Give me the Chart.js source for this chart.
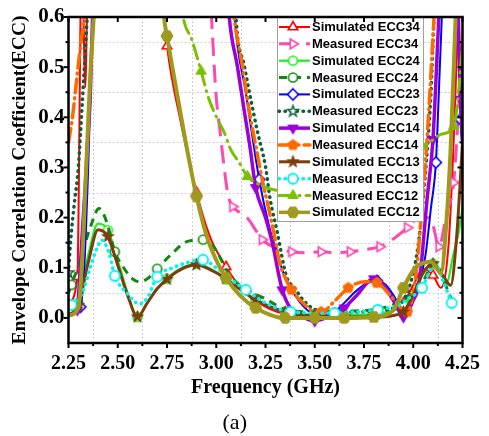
<!DOCTYPE html>
<html>
<head>
<meta charset="utf-8">
<title>ECC</title>
<script src="https://cdn.jsdelivr.net/npm/chart.js@4.4.1/dist/chart.umd.min.js"></script>
<style>
  body { margin: 0; background: #fff; }
  canvas { display: block; }
</style>
</head>
<body>
<canvas id="ecc" width="489" height="436"></canvas>
<script>
// axis ticks and dotted grid positions
const freqTicks = [2.25, 2.50, 2.75, 3.00, 3.25, 3.50, 3.75, 4.00, 4.25];
const eccTicks = [0.0, 0.1, 0.2, 0.3, 0.4, 0.5, 0.6];
const freqGrid = [2.375, 2.625, 2.875, 3.125, 3.375, 3.625, 3.875, 4.125];
const eccGrid = [0.05, 0.15, 0.25, 0.35, 0.45, 0.55];

// Simulated ECC34
const simEcc34F = [2.25, 2.295, 2.318, 2.335, 2.352, 2.70, 2.75, 2.82, 2.90, 2.97, 3.05, 3.12, 3.20, 3.27, 3.35, 3.50, 3.65, 3.80, 3.88, 3.95, 4.00, 4.05, 4.10, 4.14, 4.18, 4.21, 4.24];
const simEcc34 = [0.03, 0.082, 0.75, 0.46, 0.75, 0.75, 0.542, 0.39, 0.25, 0.16, 0.102, 0.062, 0.035, 0.018, 0.008, 0.003, 0.003, 0.004, 0.01, 0.03, 0.065, 0.098, 0.085, 0.06, 0.15, 0.4, 0.75];
const simEcc34Marks = [2.295, 2.75, 2.90, 3.05, 3.20, 3.35, 3.50, 3.65, 3.80, 3.95, 4.10];

// Measured ECC34
const measEcc34F = [2.96, 2.98, 3.00, 3.02, 3.04, 3.06, 3.083, 3.12, 3.16, 3.20, 3.233, 3.30, 3.382, 3.45, 3.532, 3.60, 3.68, 3.75, 3.83, 3.90, 3.97, 4.02, 4.07, 4.10, 4.13, 4.17, 4.205, 4.25];
const measEcc34 = [0.72, 0.57, 0.44, 0.37, 0.3, 0.245, 0.222, 0.21, 0.198, 0.175, 0.156, 0.14, 0.132, 0.13, 0.132, 0.13, 0.132, 0.136, 0.142, 0.158, 0.18, 0.198, 0.2, 0.185, 0.142, 0.21, 0.27, 0.55];
const measEcc34Marks = [3.083, 3.233, 3.382, 3.532, 3.68, 3.83, 3.97, 4.13, 4.205];

// Simulated ECC24
const simEcc24F = [2.25, 2.30, 2.35, 2.40, 2.45, 2.50, 2.55, 2.60, 2.65, 2.70, 2.75, 2.80, 2.85, 2.90, 2.95, 3.00, 3.05, 3.10, 3.20, 3.35, 3.50, 3.65, 3.80, 3.90, 3.95, 4.00, 4.05, 4.10, 4.13, 4.17, 4.20, 4.23, 4.25];
const simEcc24 = [0.005, 0.03, 0.125, 0.188, 0.175, 0.115, 0.05, 0.002, 0.03, 0.058, 0.078, 0.094, 0.104, 0.108, 0.102, 0.091, 0.077, 0.063, 0.036, 0.013, 0.006, 0.006, 0.008, 0.015, 0.025, 0.05, 0.088, 0.108, 0.095, 0.07, 0.12, 0.17, 0.22];
const simEcc24Marks = [2.30, 2.45, 2.60, 2.75, 2.90, 3.05, 3.20, 3.35, 3.50, 3.65, 3.80, 3.95, 4.10];

// Measured ECC24
const measEcc24F = [2.25, 2.265, 2.31, 2.36, 2.405, 2.445, 2.485, 2.53, 2.575, 2.61, 2.65, 2.70, 2.78, 2.85, 2.933, 2.98, 3.02, 3.06, 3.12, 3.24, 3.377, 3.50, 3.60, 3.70, 3.82, 3.92, 4.00, 4.045, 4.085, 4.115, 4.155, 4.195];
const measEcc24 = [0.05, 0.066, 0.116, 0.18, 0.218, 0.19, 0.132, 0.1, 0.078, 0.072, 0.078, 0.098, 0.13, 0.152, 0.156, 0.145, 0.12, 0.09, 0.065, 0.04, 0.014, 0.012, 0.013, 0.014, 0.018, 0.03, 0.05, 0.068, 0.1, 0.11, 0.075, 0.035];
const measEcc24Marks = [2.265, 2.485, 2.70, 2.933];

// Simulated ECC23
const simEcc23F = [2.25, 2.31, 2.33, 2.35, 2.365, 2.38, 3.08, 3.093, 3.15, 3.218, 3.27, 3.30, 3.35, 3.40, 3.45, 3.50, 3.55, 3.60, 3.65, 3.70, 3.75, 3.816, 3.86, 3.90, 3.95, 4.00, 4.06, 4.09, 4.115, 4.13, 4.145, 4.16, 4.20, 4.24, 4.26];
const simEcc23 = [0.008, 0.022, 0.1, 0.3, 0.5, 0.7, 0.7, 0.6, 0.45, 0.276, 0.18, 0.14, 0.08, 0.045, 0.02, 0.006, 0.005, 0.012, 0.03, 0.05, 0.066, 0.074, 0.066, 0.045, 0.015, 0.05, 0.12, 0.22, 0.31, 0.45, 0.6, 0.75, 1.0, 0.396, 0.3];
const simEcc23Marks = [2.31, 3.218, 3.816, 4.115, 4.24];

// Measured ECC23
const measEcc23F = [2.25, 2.26, 2.28, 2.30, 2.32, 2.345, 2.36, 3.09, 3.10, 3.143, 3.175, 3.21, 3.25, 3.274, 3.307, 3.357, 3.397, 3.44, 3.507, 3.60, 3.70, 3.80, 3.90, 3.95, 4.00, 4.03, 4.06, 4.09, 4.105, 4.12];
const measEcc23 = [0.09, 0.15, 0.23, 0.3, 0.43, 0.6, 0.7, 0.7, 0.6, 0.502, 0.436, 0.37, 0.302, 0.236, 0.176, 0.082, 0.06, 0.036, 0.016, 0.012, 0.012, 0.014, 0.02, 0.035, 0.09, 0.16, 0.28, 0.45, 0.596, 0.7];
const measEcc23Marks = [2.25];

// Simulated ECC14
const simEcc14F = [2.25, 2.295, 2.305, 2.32, 2.336, 2.35, 2.36, 2.372, 2.385, 3.05, 3.066, 3.108, 3.141, 3.173, 3.20, 3.25, 3.29, 3.315, 3.335, 3.372, 3.422, 3.50, 3.59, 3.65, 3.706, 3.80, 3.856, 3.906, 3.95, 4.00, 4.03, 4.07, 4.10, 4.13, 4.15, 4.20, 4.24, 4.26];
const simEcc14 = [0.005, 0.016, 0.07, 0.17, 0.27, 0.37, 0.436, 0.6, 0.75, 0.7, 0.6, 0.5, 0.416, 0.336, 0.26, 0.2, 0.14, 0.09, 0.056, 0.022, 0.006, -0.006, 0.006, 0.02, 0.042, 0.078, 0.062, 0.03, 0.002, 0.035, 0.07, 0.236, 0.356, 0.6, 0.75, 1.0, 0.436, 0.3];
const simEcc14Marks = [2.295, 3.20, 3.335, 3.50, 3.65, 3.80, 3.95, 4.10, 4.24];

// Measured ECC14
const measEcc14F = [2.25, 2.27, 2.29, 2.31, 2.33, 2.35, 3.08, 3.091, 3.133, 3.166, 3.207, 3.233, 3.265, 3.297, 3.322, 3.35, 3.382, 3.44, 3.507, 3.532, 3.607, 3.67, 3.756, 3.815, 3.89, 3.97, 4.00, 4.02, 4.04, 4.06, 4.08, 4.10, 4.12];
const measEcc14 = [0.35, 0.40, 0.47, 0.54, 0.6, 0.68, 0.65, 0.6, 0.502, 0.416, 0.33, 0.276, 0.22, 0.16, 0.11, 0.08, 0.056, 0.03, 0.012, 0.012, 0.036, 0.06, 0.072, 0.07, 0.042, 0.012, 0.05, 0.11, 0.2, 0.3, 0.42, 0.56, 0.7];
const measEcc14Marks = [3.382, 3.532, 3.67, 3.815, 3.97];

// Simulated ECC13
const simEcc13F = [2.25, 2.30, 2.35, 2.40, 2.45, 2.50, 2.55, 2.60, 2.65, 2.70, 2.75, 2.80, 2.85, 2.90, 2.95, 3.00, 3.05, 3.10, 3.20, 3.35, 3.50, 3.65, 3.80, 3.90, 3.95, 4.00, 4.05, 4.10, 4.15, 4.19, 4.22, 4.25];
const simEcc13 = [0.005, 0.025, 0.11, 0.176, 0.162, 0.105, 0.045, 0.002, 0.03, 0.058, 0.077, 0.092, 0.102, 0.106, 0.1, 0.09, 0.078, 0.063, 0.036, 0.012, 0.004, 0.002, 0.002, 0.005, 0.012, 0.045, 0.09, 0.108, 0.085, 0.065, 0.16, 0.35];
const simEcc13Marks = [2.30, 2.45, 2.60, 2.75, 2.90, 3.05, 3.20, 3.35, 3.50, 3.65, 3.80, 3.95, 4.10];

// Measured ECC13
const measEcc13F = [2.25, 2.265, 2.30, 2.33, 2.36, 2.39, 2.42, 2.455, 2.485, 2.545, 2.61, 2.65, 2.70, 2.78, 2.85, 2.933, 3.00, 3.07, 3.15, 3.25, 3.377, 3.50, 3.60, 3.70, 3.82, 3.92, 3.98, 4.045, 4.08, 4.115, 4.155, 4.195];
const measEcc13 = [0.02, 0.026, 0.036, 0.06, 0.1, 0.135, 0.155, 0.13, 0.084, 0.05, 0.028, 0.04, 0.082, 0.1, 0.11, 0.116, 0.1, 0.078, 0.056, 0.03, 0.012, 0.01, 0.01, 0.012, 0.016, 0.025, 0.04, 0.06, 0.09, 0.105, 0.07, 0.03];
const measEcc13Marks = [2.265, 2.485, 2.70, 2.933, 3.15, 3.377, 3.60, 3.82, 4.045, 4.195];

// Measured ECC12
const measEcc12F = [2.80, 2.834, 2.875, 2.923, 2.958, 2.99, 3.04, 3.073, 3.116, 3.158, 3.20, 3.25, 3.30, 3.40, 3.55, 3.70, 3.85, 3.95, 4.00, 4.045, 4.10, 4.14, 4.205, 4.23, 4.26];
const measEcc12 = [0.7, 0.596, 0.556, 0.492, 0.442, 0.41, 0.37, 0.336, 0.31, 0.282, 0.27, 0.26, 0.255, 0.25, 0.25, 0.265, 0.29, 0.315, 0.33, 0.342, 0.355, 0.366, 0.382, 0.45, 0.6];
const measEcc12Marks = [2.923, 3.158, 4.045, 4.205];

// Simulated ECC12
const simEcc12F = [2.25, 2.30, 2.32, 2.34, 2.36, 2.378, 2.39, 2.72, 2.735, 2.75, 2.80, 2.85, 2.90, 2.95, 3.00, 3.05, 3.12, 3.20, 3.35, 3.50, 3.65, 3.80, 3.90, 3.95, 4.00, 4.03, 4.09, 4.14, 4.17, 4.19, 4.215, 4.23];
const simEcc12 = [0.005, 0.02, 0.12, 0.3, 0.48, 0.6, 0.7, 0.7, 0.6, 0.562, 0.45, 0.34, 0.242, 0.165, 0.115, 0.08, 0.045, 0.02, 0.0, 0.0, 0.0, 0.002, 0.016, 0.06, 0.095, 0.106, 0.112, 0.09, 0.2, 0.34, 0.6, 0.75];
const simEcc12Marks = [2.75, 2.90, 3.05, 3.20, 3.35, 3.50, 3.65, 3.80, 3.95];

// marker glyphs drawn once on small canvases
function marker(shape, r, stroke, fill, lw) {
  const s = Math.ceil(r * 2 + lw * 2 + 2);
  const c = document.createElement('canvas');
  c.width = s; c.height = s;
  const g = c.getContext('2d');
  g.translate(s / 2, s / 2);
  g.beginPath();
  if (shape === 'circle') {
    g.arc(0, 0, r, 0, Math.PI * 2);
  } else {
    let pts = [];
    const poly = (n, rot, rad) => {
      for (let k = 0; k < n; k++) {
        const a = rot + k * 2 * Math.PI / n;
        pts.push([Math.cos(a) * rad, Math.sin(a) * rad]);
      }
    };
    if (shape === 'up') poly(3, -Math.PI / 2, r * 1.1);
    if (shape === 'down') poly(3, Math.PI / 2, r * 1.1);
    if (shape === 'right') poly(3, 0, r * 1.1);
    if (shape === 'diamond') poly(4, -Math.PI / 2, r * 1.1);
    if (shape === 'pentagon') poly(5, -Math.PI / 2, r);
    if (shape === 'hexagon') poly(6, 0, r);
    if (shape === 'star') {
      for (let k = 0; k < 10; k++) {
        const a = -Math.PI / 2 + k * Math.PI / 5;
        const rad = k % 2 ? r * 0.45 : r * 1.15;
        pts.push([Math.cos(a) * rad, Math.sin(a) * rad]);
      }
    }
    pts.forEach((p, k) => k ? g.lineTo(p[0], p[1]) : g.moveTo(p[0], p[1]));
    g.closePath();
  }
  g.fillStyle = fill;
  g.fill();
  g.lineWidth = lw;
  g.strokeStyle = stroke;
  g.lineJoin = 'miter';
  g.stroke();
  return c;
}

const series = [
  { label: 'Simulated ECC34', f: simEcc34F, v: simEcc34, marks: simEcc34Marks, color: '#ff0000', width: 2, dash: [], mk: ['up', 5, '#fff', 1.6] },
  { label: 'Measured ECC34', f: measEcc34F, v: measEcc34, marks: measEcc34Marks, color: '#ff48b0', width: 3, dash: [18, 9], mk: ['right', 5, '#fff', 1.6] },
  { label: 'Simulated ECC24', f: simEcc24F, v: simEcc24, marks: simEcc24Marks, color: '#1cf01c', width: 2.2, dash: [], mk: ['circle', 4.5, '#fff', 1.6] },
  { label: 'Measured ECC24', f: measEcc24F, v: measEcc24, marks: measEcc24Marks, color: '#0f8a0f', width: 3, dash: [8, 6], mk: ['circle', 4.5, '#fff', 1.6] },
  { label: 'Simulated ECC23', f: simEcc23F, v: simEcc23, marks: simEcc23Marks, color: '#0000ff', width: 2, dash: [], mk: ['diamond', 5, '#fff', 1.6] },
  { label: 'Measured ECC23', f: measEcc23F, v: measEcc23, marks: measEcc23Marks, color: '#0b5e3a', width: 3.5, dash: [0.5, 5.5], cap: 'round', mk: ['star', 5, '#fff', 1.4] },
  { label: 'Simulated ECC14', f: simEcc14F, v: simEcc14, marks: simEcc14Marks, color: '#9b00d6', width: 3.5, dash: [], mk: ['down', 5.5, null, 1] },
  { label: 'Measured ECC14', f: measEcc14F, v: measEcc14, marks: measEcc14Marks, color: '#ff6a00', width: 3.5, dash: [14, 5, 1, 5], cap: 'round', mk: ['pentagon', 5.5, null, 1] },
  { label: 'Simulated ECC13', f: simEcc13F, v: simEcc13, marks: simEcc13Marks, color: '#7d3c0c', width: 3, dash: [], mk: ['star', 5.5, null, 1] },
  { label: 'Measured ECC13', f: measEcc13F, v: measEcc13, marks: measEcc13Marks, color: '#00f4f4', width: 3.5, dash: [0.5, 5.5], cap: 'round', mk: ['circle', 5, '#fff', 1.8] },
  { label: 'Measured ECC12', f: measEcc12F, v: measEcc12, marks: measEcc12Marks, color: '#7abf00', width: 3, dash: [14, 6, 1, 6], cap: 'round', mk: ['up', 5.5, null, 1] },
  { label: 'Simulated ECC12', f: simEcc12F, v: simEcc12, marks: simEcc12Marks, color: '#9f9a1e', width: 4, dash: [], mk: ['hexagon', 6, null, 1] }
];

const datasets = series.map((s, i) => ({
  label: s.label,
  data: s.f.map((x, k) => ({ x: x, y: s.v[k] })),
  borderColor: s.color,
  backgroundColor: s.color,
  borderWidth: s.width,
  borderDash: s.dash,
  borderCapStyle: s.cap || 'butt',
  cubicInterpolationMode: 'monotone',
  pointStyle: marker(s.mk[0], s.mk[1], s.color, s.mk[2] || s.color, s.mk[3]),
  pointRadius: (c) => s.marks.includes(s.f[c.dataIndex]) ? 5 : 0,
  order: series.length - i,
  clip: 0
}));

function seg(ctx, x1, y1, x2, y2) {
  ctx.beginPath();
  ctx.moveTo(x1, y1);
  ctx.lineTo(x2, y2);
  ctx.stroke();
}

const framePlugin = {
  id: 'frame',
  beforeDatasetsDraw(chart) {
    const { ctx, chartArea: a, scales: { x, y } } = chart;
    ctx.save();
    ctx.strokeStyle = '#cfcfcf';
    ctx.lineWidth = 1;
    ctx.setLineDash([2, 2]);
    freqGrid.forEach(v => {
      const px = Math.round(x.getPixelForValue(v)) + 0.5;
      seg(ctx, px, a.top, px, a.bottom);
    });
    eccGrid.forEach(v => {
      const py = Math.round(y.getPixelForValue(v)) + 0.5;
      seg(ctx, a.left, py, a.right, py);
    });
    ctx.restore();
  },
  afterDatasetsDraw(chart) {
    const { ctx, chartArea: a, scales: { x, y } } = chart;

    // legend in the upper right corner
    const lx = 277, ly = a.top, lw = 146, lh = 204, rowH = 16.85;
    ctx.save();
    ctx.fillStyle = '#fff';
    ctx.fillRect(lx, ly, lw, lh);
    ctx.strokeStyle = '#a0a0a0';
    ctx.lineWidth = 1;
    ctx.strokeRect(lx + 0.5, ly + 0.5, lw, lh);
    ctx.font = 'bold 13px "Liberation Sans", Arial, sans-serif';
    ctx.textBaseline = 'middle';
    chart.data.datasets.forEach((ds, i) => {
      const cy = ly + 10 + i * rowH;
      ctx.save();
      ctx.strokeStyle = ds.borderColor;
      ctx.lineWidth = Math.min(ds.borderWidth, 3.5);
      ctx.setLineDash(ds.borderDash);
      ctx.lineCap = ds.borderCapStyle;
      seg(ctx, lx + 2, cy, lx + 33, cy);
      ctx.restore();
      const m = ds.pointStyle;
      ctx.drawImage(m, lx + 16 - m.width / 2, cy - m.height / 2);
      ctx.fillStyle = '#000';
      ctx.fillText(ds.label, lx + 35, cy + 0.5);
    });
    ctx.restore();

    // box and tick marks
    ctx.save();
    ctx.strokeStyle = '#000';
    ctx.lineWidth = 2.5;
    ctx.strokeRect(a.left, a.top, a.right - a.left, a.bottom - a.top);
    ctx.lineWidth = 2;
    for (let k = 0; k <= 16; k++) {
      const px = x.getPixelForValue(2.25 + k * 0.125);
      const major = k % 2 === 0;
      seg(ctx, px, a.bottom, px, a.bottom + (major ? 5 : 3));
      if (major) seg(ctx, px, a.top, px, a.top + 5);
    }
    for (let k = 0; k <= 12; k++) {
      const py = y.getPixelForValue(k * 0.05);
      const len = k % 2 === 0 ? 5 : 3;
      seg(ctx, a.left - len, py, a.left, py);
      seg(ctx, a.right - len, py, a.right, py);
    }
    ctx.restore();
  }
};

const serif = '"Liberation Serif", "Times New Roman", serif';

new Chart(document.getElementById('ecc'), {
  type: 'line',
  data: { datasets: datasets },
  options: {
    responsive: false,
    animation: false,
    devicePixelRatio: 1,
    events: [],
    layout: { padding: { top: 17, right: 19.5, left: 0, bottom: 0 } },
    plugins: {
      legend: { display: false },
      tooltip: { enabled: false },
      title: {
        display: true,
        text: '(a)',
        position: 'bottom',
        color: '#000',
        font: { family: serif, size: 22, weight: 'normal' },
        padding: { top: 0, bottom: 0 }
      }
    },
    scales: {
      x: {
        type: 'linear',
        min: 2.25,
        max: 4.25,
        afterBuildTicks: (s) => { s.ticks = freqTicks.map(v => ({ value: v })); },
        afterFit: (s) => { s.height = 66.6; },
        grid: { display: false, drawTicks: false },
        border: { display: false },
        ticks: {
          padding: 9,
          color: '#000',
          maxRotation: 0,
          font: { family: serif, size: 20, weight: 'bold' },
          callback: (v) => v.toFixed(2)
        },
        title: {
          display: true,
          text: 'Frequency (GHz)',
          color: '#000',
          font: { family: serif, size: 20, weight: 'bold' },
          padding: { top: 0, bottom: 10 }
        }
      },
      y: {
        min: -0.05,
        max: 0.6,
        afterBuildTicks: (s) => { s.ticks = eccTicks.map(v => ({ value: v })); },
        afterFit: (s) => { s.width = 68.5; },
        grid: { display: false, drawTicks: false },
        border: { display: false },
        ticks: {
          padding: 4,
          color: '#000',
          font: { family: serif, size: 21, weight: 'bold' },
          callback: (v) => v.toFixed(1)
        },
        title: {
          display: true,
          text: 'Envelope Correlation Coefficient(ECC)',
          color: '#000',
          font: { family: serif, size: 19.5, weight: 'bold' },
          padding: { top: 8, bottom: 0 }
        }
      }
    }
  },
  plugins: [framePlugin]
});
</script>
</body>
</html>
